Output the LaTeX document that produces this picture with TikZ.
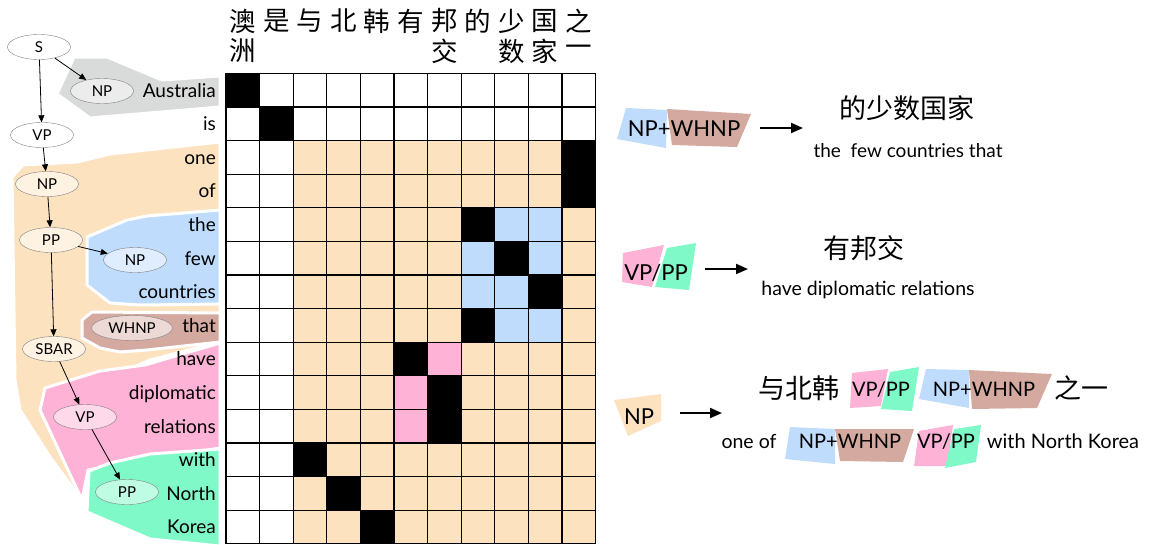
\documentclass[tikz,border=0pt]{standalone}
\usepackage{fontspec}
\setmainfont{Lato}
\newfontfamily\cjk{Noto Sans CJK SC}
\usetikzlibrary{shapes.geometric,arrows.meta}
\definecolor{npgray}{RGB}{217,218,218}
\definecolor{nporange}{RGB}{253,226,192}
\definecolor{npblue}{RGB}{191,220,253}
\definecolor{whbrown}{RGB}{212,169,160}
\definecolor{vppink}{RGB}{253,178,214}
\definecolor{ppgreen}{RGB}{128,249,201}
\tikzset{
	cat/.style 2 args={ellipse,draw=gray,fill=#1,minimum width=63pt,minimum height=25pt,inner sep=0pt,font=\fontsize{15}{15}\selectfont,name=#2},
	word/.style={anchor=base east,inner sep=0pt,font=\fontsize{19}{19}\selectfont},
	head/.style={inner sep=0pt,font=\cjk\fontsize{26.5}{26.5}\selectfont},
	region/.style={fill=#1,draw=white,line width=3pt,line join=round},
	treearr/.style={-{Triangle[length=7pt,width=6pt]},line width=0.8pt},
	maps/.style={-{Triangle[length=12pt,width=10pt]},line width=2pt},
	zh/.style={inner sep=0pt,font=\cjk\fontsize{27}{27}\selectfont},
	en/.style={anchor=base,inner sep=0pt,font=\fontsize{#1}{#1}\selectfont}
}
\begin{document}
\begin{tikzpicture}[x=1pt,y=-1pt]
\useasboundingbox (0,0) rectangle (1153,544);

% constituent regions
\draw [region=npgray] (74,57) -- (107,57) -- (162,80) -- (220,76) -- (220,107) -- (90,118) -- (57,94) -- cycle;
\draw [region=nporange] (12,177) -- (23,165) -- (77,162) -- (110,154) -- (220,142) -- (220,342) -- (150,360) -- (60,400) -- (80,480) -- (82,500)
	-- (50,457) -- (20,410) -- (15,380) -- cycle;
\draw [region=npblue] (87,237) -- (127,220) -- (147,216) -- (220,210) -- (220,304) -- (140,305) -- (110,303) -- (87,285) -- cycle;
\draw [region=whbrown] (82,320) -- (92,312) -- (220,313) -- (220,342) -- (147,350) -- (120,352) -- (100,348) -- (82,338) -- cycle;
\draw [region=vppink] (45,388) -- (100,371) -- (145,365) -- (220,343) -- (220,448) -- (88,470) -- (82,500) -- (40,410) -- cycle;
\draw [region=ppgreen] (89,471) -- (110,463) -- (150,454) -- (220,449) -- (220,546) -- (150,539) -- (87,512) -- cycle;

% tree
\node [cat={white}{s}] at (39,47) {S};
\node [cat={npgray!50}{np1}] at (102,91) {NP};
\node [cat={white}{vp1}] at (42,135) {VP};
\node [cat={nporange!45}{np2}] at (47,184) {NP};
\node [cat={nporange!45}{pp1}] at (51,240) {PP};
\node [cat={npblue!50}{np3}] at (135,260) {NP};
\node [cat={whbrown!45}{whnp},minimum width=81pt] at (132,328) {WHNP};
\node [cat={nporange!45}{sbar}] at (54,349) {SBAR};
\node [cat={vppink!50}{vp2}] at (85,417) {VP};
\node [cat={ppgreen!50}{pp2}] at (127,492) {PP};

\draw [treearr] (s) -- (vp1);
\draw [treearr] (s) -- (np1);
\draw [treearr] (vp1) -- (np2);
\draw [treearr] (np2) -- (pp1);
\draw [treearr] (pp1) -- (np3);
\draw [treearr] (pp1) -- (sbar);
\draw [treearr] (sbar) -- (vp2);
\draw [treearr] (vp2) -- (pp2);

\foreach \r/\w in {0/Australia,1/is,2/one,3/of,4/the,5/few,6/countries,7/that,8/have,9/diplomatic,10/relations,11/with,12/North,13/Korea}
	\node [word] (w\r) at (216,{73.3+33.6*\r+23.8}) {\w};

% alignment matrix
\begin{scope}[shift={(226,73.3)},x=33.6pt,y=-33.6pt]
	\fill [nporange] (2,2) rectangle (11,14);
	\fill [npblue] (7,4) rectangle (10,8);
	\foreach \r/\c in {8/6,9/5,10/5}
		\fill [vppink] (\c,\r) rectangle ++(1,1);
	\foreach \r/\c in {0/0,1/1,2/10,3/10,4/7,5/8,6/9,7/7,8/5,9/6,10/6,11/2,12/3,13/4}
		\fill (\c,\r) rectangle ++(1,1);
	\foreach \i in {0,...,11}
		\draw [line width=1.2pt] (\i,0) -- (\i,14);
	\foreach \i in {0,...,14}
		\draw [line width=1.2pt] (0,\i) -- (11,\i);
\end{scope}

\foreach \c/\t in {0/澳,1/是,2/与,3/北,4/韩,5/有,6/邦,7/的,8/少,9/国,10/之}
	\node [head] (h\c) at ({242.8+33.6*\c},21) {\t};
\foreach \c/\t in {0/洲,6/交,8/数,9/家,10/一}
	\node [head] (hh\c) at ({242.8+33.6*\c},51) {\t};

% rules
\fill [npblue] (626,108) -- (667,110) -- (666,148) -- (617,139) -- cycle;
\fill [whbrown] (667,109) -- (751,114) -- (737,147) -- (672,145) -- cycle;
\node [en=22] (lhs1) at (684,136) {NP+WHNP};
\coordinate (a1) at (760,128);
\coordinate (b1) at (803,128);
\draw [maps] (a1) -- (b1);
\node [zh] (zh1) at (907,108) {的少数国家};
\node [en=19] (en1) at (908,157) {the\ \ few countries that};

\fill [vppink] (623,253) -- (664,245) -- (652,287) -- (622,282) -- cycle;
\fill [ppgreen] (667,248) -- (696,243) -- (689,290) -- (655,287) -- cycle;
\node [en=22] (lhs2) at (656,280) {VP/PP};
\coordinate (a2) at (705,269);
\coordinate (b2) at (748,269);
\draw [maps] (a2) -- (b2);
\node [zh] (zh2) at (864,248) {有邦交};
\node [en=19.5] (en2) at (868,295) {have diplomatic relations};

\fill [nporange] (614,400) -- (661,394) -- (661,421) -- (628,436) -- cycle;
\node [en=22] (lhs3) at (639,424) {NP};
\coordinate (a3) at (680,413);
\coordinate (b3) at (722,413);
\draw [maps] (a3) -- (b3);
\node [zh] (zh3) at (799,388) {与北韩};
\fill [vppink] (852,373) -- (888,369) -- (881,406) -- (850,408) -- cycle;
\fill [ppgreen] (890,372) -- (919,367) -- (912,411) -- (881,409) -- cycle;
\node [en=20] (vp3) at (881,396) {VP/PP};
\fill [npblue] (926,369) -- (969,370) -- (969,408) -- (919,399) -- cycle;
\fill [whbrown] (969,370) -- (1052,374) -- (1037,408) -- (972,409) -- cycle;
\node [en=20] (np3r) at (984,396) {NP+WHNP};
\node [zh] (zh3b) at (1081,388) {之一};

\node [en=19.5] (en3a) at (749,448) {one of};
\fill [npblue] (790,427) -- (835,429) -- (835,464) -- (785,459) -- cycle;
\fill [whbrown] (835,429) -- (914,429) -- (903,462) -- (840,461) -- cycle;
\node [en=20] (np3e) at (850,448) {NP+WHNP};
\fill [vppink] (919,431) -- (953,425) -- (947,466) -- (914,466) -- cycle;
\fill [ppgreen] (954,429) -- (981,425) -- (976,462) -- (945,468) -- cycle;
\node [en=20] (vp3e) at (946,448) {VP/PP};
\node [en=20] (en3b) at (1063,448) {with North Korea};
\end{tikzpicture}
\end{document}
